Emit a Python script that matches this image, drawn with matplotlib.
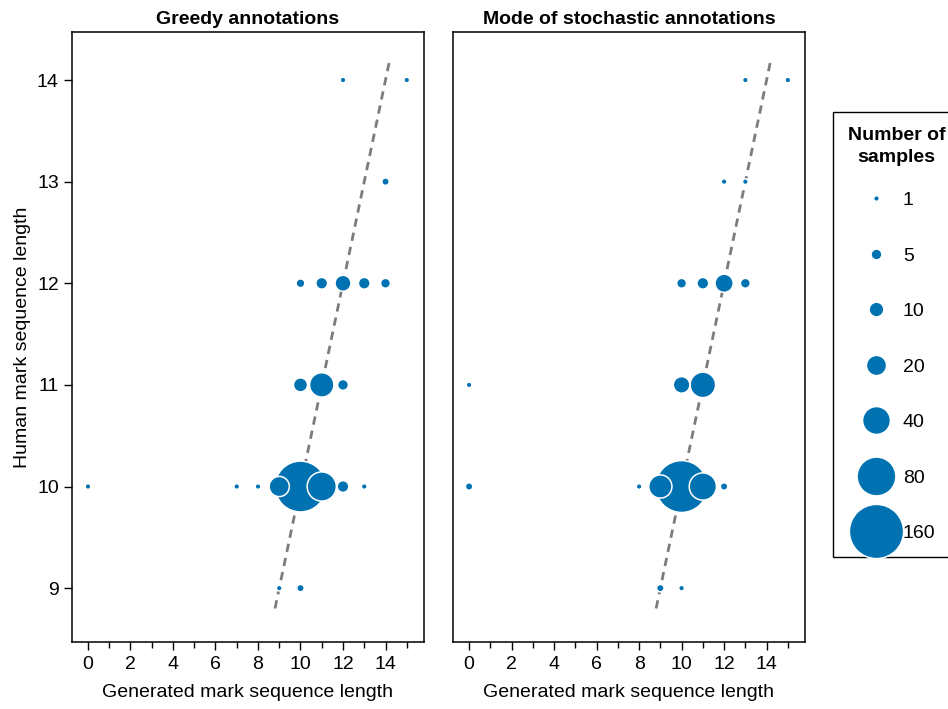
import numpy as np
import matplotlib
matplotlib.use('Agg')
import matplotlib.pyplot as plt
from matplotlib.lines import Line2D

plt.rcParams['font.family'] = ['Liberation Sans', 'DejaVu Sans']

# greedy annotations: generated length, human length, count
greedy_x = [12, 15, 14, 10, 11, 12, 13, 14, 10, 11, 12, 0, 7, 8, 9, 10, 11, 12, 13, 9, 10]
greedy_y = [14, 14, 13, 12, 12, 12, 12, 12, 11, 11, 11, 10, 10, 10, 10, 10, 10, 10, 10, 9, 9]
greedy_n = [1, 1, 2, 3, 6, 12, 6, 4, 9, 30, 5, 1, 1, 1, 20, 140, 44, 6, 1, 1, 2]

# mode of stochastic annotations
stoch_x = [13, 15, 12, 13, 10, 11, 12, 13, 0, 10, 11, 0, 8, 9, 10, 11, 12, 9, 10]
stoch_y = [14, 14, 13, 13, 12, 12, 12, 12, 11, 11, 11, 10, 10, 10, 10, 10, 10, 9, 9]
stoch_n = [1, 1, 1, 1, 4, 6, 16, 4, 1, 13, 33, 2, 1, 27, 146, 38, 2, 2, 1]

legend_counts = [1, 5, 10, 20, 40, 80, 160]
titles = ['Greedy annotations', 'Mode of stochastic annotations']

blue = '#0072B2'
fs = 14
edge = 1.1


def marker_d(n):
    # fill diameter in points plus the white stroke
    return 3.0 * np.sqrt(n) + edge


fig = plt.figure(figsize=(9.48, 7.09), dpi=100)
ax1 = fig.add_axes([0.076, 0.0945, 0.371, 0.860])
ax2 = fig.add_axes([0.478, 0.0945, 0.371, 0.860])

for ax, xs, ys, ns, title in [(ax1, greedy_x, greedy_y, greedy_n, titles[0]),
                              (ax2, stoch_x, stoch_y, stoch_n, titles[1])]:
    xs = np.array(xs); ys = np.array(ys); ns = np.array(ns)
    order = np.argsort(-ns, kind='stable')
    ax.plot([8.8, 14.2], [8.8, 14.2], ls=(0, (3, 2.2)), color='#7c7c7c', lw=2, zorder=1)
    ax.scatter(xs[order], ys[order], s=marker_d(ns[order]) ** 2, color=blue,
               edgecolors='white', linewidths=edge, zorder=2)
    ax.set_xlim(-0.75, 15.8)
    ax.set_ylim(8.47, 14.47)
    ax.set_xticks(range(0, 15, 2))
    ax.set_xticks(range(1, 16, 2), minor=True)
    ax.tick_params(axis='x', which='major', length=6, width=1, labelsize=fs, pad=4)
    ax.tick_params(axis='x', which='minor', length=4.5, width=1)
    ax.set_xlabel('Generated mark sequence length', fontsize=fs, labelpad=8)
    ax.set_title(title, fontsize=fs, fontweight='bold', pad=6)
    for sp in ax.spines.values():
        sp.set_linewidth(1.1)

ax1.set_yticks(range(9, 15))
ax1.tick_params(axis='y', length=6, width=1, labelsize=fs)
ax1.set_ylabel('Human mark sequence length', fontsize=fs, labelpad=4)
ax2.set_yticks([])

handles = [Line2D([], [], ls='none', marker='o', color=blue, markeredgecolor='white',
                  markeredgewidth=edge, markersize=marker_d(c)) for c in legend_counts]
leg = fig.legend(handles, [str(c) for c in legend_counts], title='Number of\nsamples',
                 loc='upper left', bbox_to_anchor=(0.879, 0.842), fontsize=fs,
                 title_fontproperties={'weight': 'bold', 'size': fs},
                 frameon=True, fancybox=False, edgecolor='black', framealpha=1,
                 labelspacing=1.95, handlelength=1.8, handletextpad=0.5,
                 borderpad=0.75, borderaxespad=0)
leg.get_frame().set_linewidth(1.0)
leg.get_title().set_multialignment('center')
leg.get_title().set_linespacing(1.4)
leg._legend_box.sep = 18.5  # tighter gap between title and entries

fig.savefig('out.png', dpi=100)
